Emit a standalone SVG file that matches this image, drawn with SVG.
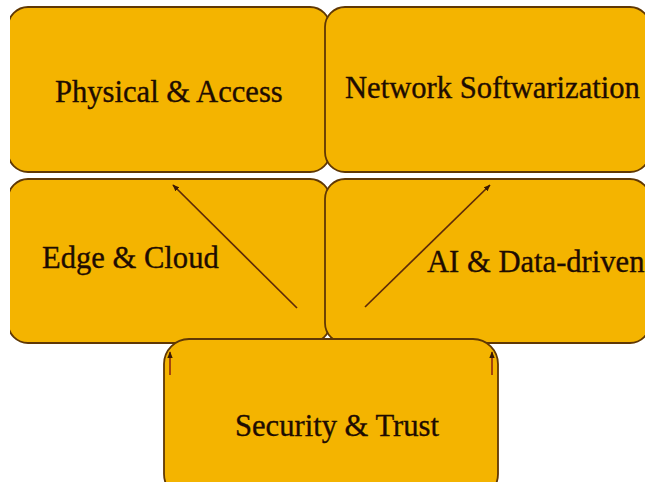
<svg xmlns="http://www.w3.org/2000/svg" width="645" height="482" viewBox="0 0 645 482">
  <defs>
    <style>
      .box { fill: #F4B400; stroke: #603804; stroke-width: 1.8; }
      .label { font-family: "Liberation Serif", "Times New Roman", serif; font-size: 30.6px; fill: #1E0C02; stroke: #1E0C02; stroke-width: 0.35; }
      .link { stroke: #5E2A08; stroke-width: 1.7; fill: none; }
      .tick { stroke: #A4450C; stroke-width: 2; fill: none; }
    </style>
    <marker id="head" viewBox="0 0 10 10" refX="9" refY="5" markerWidth="7" markerHeight="7" orient="auto" markerUnits="userSpaceOnUse">
      <path d="M0,1 L10,5 L0,9 z" fill="#3A1A04"/>
    </marker>
    <clipPath id="page">
      <rect x="10" y="0" width="635" height="482"/>
    </clipPath>
  </defs>
  <rect width="645" height="482" fill="#FFFFFF"/>

  <g clip-path="url(#page)">
    <g id="physical-access">
      <rect class="box" x="8" y="7" width="322" height="165" rx="20" ry="20"/>
      <text class="label" x="55" y="102">Physical &amp; Access</text>
    </g>
    <g id="network-softwarization">
      <rect class="box" x="325" y="7" width="325" height="165" rx="20" ry="20"/>
      <text class="label" x="345" y="98">Network Softwarization</text>
    </g>
    <g id="edge-cloud">
      <rect class="box" x="8" y="179" width="322" height="164" rx="20" ry="20"/>
      <text class="label" x="42" y="268">Edge &amp; Cloud</text>
    </g>
    <g id="ai-data-driven">
      <rect class="box" x="325" y="179" width="325" height="164" rx="20" ry="20"/>
      <text class="label" x="427" y="272">AI &amp; Data-driven</text>
    </g>
    <g id="security-trust">
      <rect class="box" x="164" y="339" width="334" height="160" rx="25" ry="25"/>
      <text class="label" x="235" y="436">Security &amp; Trust</text>
    </g>
  </g>

  <g id="connectors">
    <line class="link" x1="297" y1="308" x2="173" y2="185" marker-end="url(#head)"/>
    <line class="link" x1="365" y1="307" x2="490" y2="185" marker-end="url(#head)"/>
    <line class="tick" x1="170" y1="375" x2="170" y2="352" marker-end="url(#head)"/>
    <line class="tick" x1="492" y1="375" x2="492" y2="352" marker-end="url(#head)"/>
  </g>
</svg>
